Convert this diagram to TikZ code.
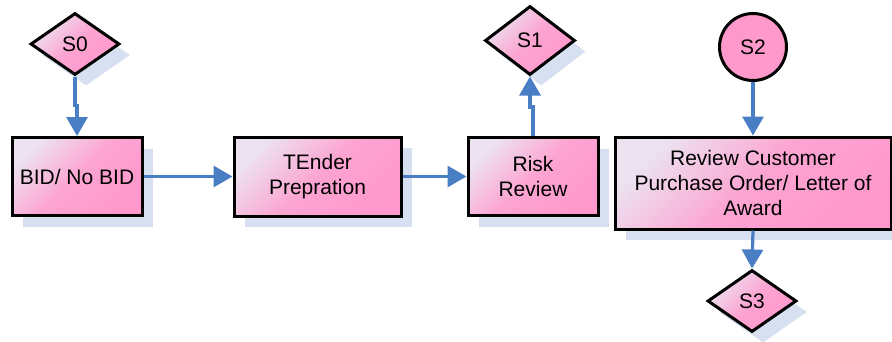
\documentclass[tikz,border=0pt]{standalone}
\usepackage{fontspec}
\setmainfont{Liberation Sans}
\usepackage{xcolor}
\usetikzlibrary{arrows.meta, positioning, calc, shapes.geometric, shadows}
\definecolor{pinklight}{HTML}{ECE2F0}
\definecolor{pinkdeep}{HTML}{FF99CC}
\definecolor{shadowblue}{HTML}{D6E0F0}
\definecolor{flowblue}{HTML}{4A7EC4}

\begin{document}
\begin{tikzpicture}[x=1pt, y=-1pt,
    every node/.style={font=\fontsize{21}{25}\selectfont, align=center, inner sep=0pt},
    boxshadow/.style={drop shadow={shadow xshift=11pt, shadow yshift=-11pt, fill=shadowblue, opacity=1}},
    stepbox/.style={rectangle, draw=black, line width=3pt, boxshadow,
        top color=pinklight, bottom color=pinkdeep, middle color=pinkdeep!85!pinklight, shading angle=45},
    statediamond/.style={diamond, draw=black, line width=3pt, boxshadow,
        top color=pinklight, bottom color=pinkdeep, middle color=pinkdeep!85!pinklight, shading angle=45,
        minimum width=89pt, minimum height=62pt},
    statecircle/.style={circle, draw=black, line width=3pt, fill=pinkdeep, minimum size=67pt},
    flow/.style={draw=flowblue, line width=3.2pt, -{Triangle[width=21pt, length=19pt]}}]
    \useasboundingbox (0,0) rectangle (892,341);

    % steps
    \node[stepbox, minimum width=130pt, minimum height=78pt] (bid) at (77,176.5) {BID/ No BID};
    \node[stepbox, minimum width=167pt, minimum height=79pt] (tender) at (317.5,176.5) {TEnder\\Prepration};
    \node[stepbox, minimum width=130pt, minimum height=78pt] (risk) at (533,176.5) {Risk\\Review};
    \node[stepbox, minimum width=276pt, minimum height=92pt] (review) at (753,183) {Review Customer\\Purchase Order/ Letter of\\Award};

    % states
    \node[statediamond] (s0) at (75,44) {S0};
    \node[statediamond, minimum width=90pt, minimum height=69pt] (s1) at (530,40.5) {S1};
    \node[statecircle] (s2) at (753,47) {S2};
    \node[statediamond] (s3) at (752,301) {S3};

    % connectors
    \draw[flow] (s0.south) -- ++(0,29) -| (bid.north);
    \draw[flow] (bid.east) -- (tender.west);
    \draw[flow] (tender.east) -- (risk.west);
    \draw[flow] (risk.north) -- ++(0,-29) -| (s1.south);
    \draw[flow] (s2.south) -- (review.north);
    \draw[flow] (review.south) -- (s3.north);
\end{tikzpicture}
\end{document}
